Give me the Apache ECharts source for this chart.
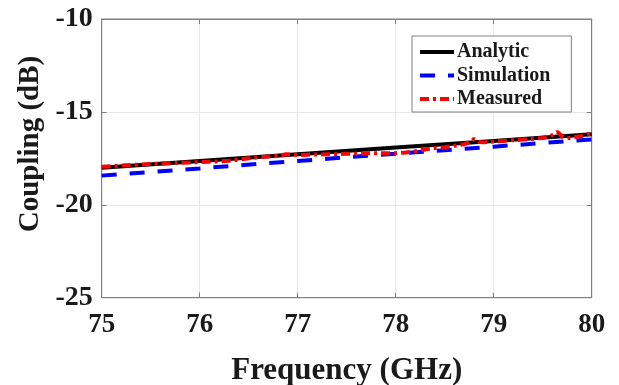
<!DOCTYPE html>
<html>
<head>
<meta charset="utf-8">
<script src="https://cdn.jsdelivr.net/npm/echarts@6/dist/echarts.min.js"></script>
<style>
  html, body { margin: 0; padding: 0; background: #fff; }
  #chart { width: 619px; height: 385px; }
</style>
</head>
<body>
<div id="chart"></div>
<script>
// Coupling versus frequency: analytic model, simulation and measurement
var xTicks = [75, 76, 77, 78, 79, 80];
var yTicks = [-25, -20, -15, -10];

var analyticFreq = [75, 76, 77, 78, 79, 80];
var analyticDb   = [-18.00, -17.64, -17.28, -16.92, -16.56, -16.20];

var simFreq = [75, 76, 77, 78, 79, 80];
var simDb   = [-18.43, -18.04, -17.64, -17.25, -16.87, -16.48];

var measFreq = [75.0, 75.1, 75.2, 75.3, 75.4, 75.5, 75.6, 75.7, 75.8, 75.9,
                76.0, 76.1, 76.2, 76.3, 76.4, 76.5, 76.6, 76.7, 76.8, 76.88, 76.9,
                77.0, 77.1, 77.2, 77.3, 77.4, 77.5, 77.6, 77.7, 77.8, 77.9,
                78.0, 78.1, 78.2, 78.3, 78.4, 78.5, 78.6, 78.7, 78.76, 78.8, 78.85, 78.9,
                79.0, 79.1, 79.2, 79.3, 79.4, 79.5, 79.6, 79.65, 79.7, 79.75, 79.8, 79.9, 80.0];
var measDb   = [-17.95, -17.92, -17.88, -17.86, -17.83, -17.80, -17.78, -17.76, -17.74, -17.72,
                -17.70, -17.68, -17.66, -17.63, -17.57, -17.50, -17.44, -17.40, -17.37, -17.28, -17.35,
                -17.32, -17.30, -17.29, -17.28, -17.27, -17.25, -17.24, -17.23, -17.23, -17.23,
                -17.22, -17.19, -17.12, -17.02, -16.95, -16.90, -16.82, -16.74, -16.62, -16.45, -16.62, -16.64,
                -16.59, -16.56, -16.52, -16.49, -16.45, -16.40, -16.25, -16.08, -16.32, -16.42, -16.38, -16.30, -16.15];

function pairs(xs, ys) {
  return xs.map(function (x, i) { return [x, ys[i]]; });
}

var serif = '"Liberation Serif", "Times New Roman", serif';
var chart = echarts.init(document.getElementById('chart'), null, { renderer: 'canvas' });

var frameColor = '#808080';
var gridColor = '#e8e8e8';
var textColor = '#1a1a1a';

chart.setOption({
  animation: false,
  backgroundColor: '#ffffff',
  grid: {
    left: 101.7, right: 27.3, top: 19, bottom: 87.3,
    containLabel: false, outerBoundsMode: 'none',
    show: true, borderColor: frameColor, borderWidth: 1, backgroundColor: 'transparent'
  },
  legend: {
    orient: 'vertical',
    left: 412, top: 36,
    padding: [6, 21, 3, 6],
    itemGap: 3.5,
    itemWidth: 34, itemHeight: 14,
    backgroundColor: '#ffffff',
    borderColor: frameColor, borderWidth: 1,
    itemStyle: { opacity: 0, borderWidth: 0 },
    lineStyle: { width: 4 },
    textStyle: { fontFamily: serif, fontWeight: 'bold', fontSize: 20, color: textColor, lineHeight: 20, padding: [0, 0, 0, -2] },
    data: ['Analytic', 'Simulation', 'Measured']
  },
  xAxis: [{
    type: 'value', min: 75, max: 80, interval: 1,
    axisLine: { show: true, lineStyle: { color: frameColor, width: 1 } },
    axisTick: { show: true, inside: true, length: 5, lineStyle: { color: frameColor } },
    splitLine: { show: true, lineStyle: { color: gridColor, width: 1 } },
    axisLabel: { fontFamily: serif, fontWeight: 'bold', fontSize: 27, color: textColor, margin: 14 },
    name: 'Frequency (GHz)', nameLocation: 'middle', nameGap: 58,
    nameTextStyle: { fontFamily: serif, fontWeight: 'bold', fontSize: 31, color: textColor }
  }, {
    type: 'value', min: 75, max: 80, interval: 1, position: 'top',
    axisLine: { show: true, lineStyle: { color: frameColor, width: 1 } },
    axisTick: { show: true, inside: true, length: 5, lineStyle: { color: frameColor } },
    splitLine: { show: false }, axisLabel: { show: false }
  }],
  yAxis: [{
    type: 'value', min: -25, max: -10, interval: 5,
    axisLine: { show: true, lineStyle: { color: frameColor, width: 1 } },
    axisTick: { show: true, inside: true, length: 5, lineStyle: { color: frameColor } },
    splitLine: { show: true, lineStyle: { color: gridColor, width: 1 } },
    axisLabel: { fontFamily: serif, fontWeight: 'bold', fontSize: 28, color: textColor, margin: 9 }
  }, {
    type: 'value', min: -25, max: -10, interval: 5, position: 'right',
    axisLine: { show: true, lineStyle: { color: frameColor, width: 1 } },
    axisTick: { show: true, inside: true, length: 5, lineStyle: { color: frameColor } },
    splitLine: { show: false }, axisLabel: { show: false }
  }],
  graphic: [{
    type: 'text',
    x: 31, y: 144,
    rotation: Math.PI / 2,
    style: {
      text: 'Coupling (dB)',
      font: 'bold 29px ' + serif,
      fill: textColor,
      align: 'center', verticalAlign: 'middle',
      textAlign: 'center', textVerticalAlign: 'middle'
    }
  }],
  series: [{
    name: 'Analytic', type: 'line', showSymbol: false, symbol: 'none',
    data: pairs(analyticFreq, analyticDb),
    lineStyle: { color: '#000000', width: 4 }, itemStyle: { color: '#000000' }, z: 3
  }, {
    name: 'Simulation', type: 'line', showSymbol: false, symbol: 'none',
    data: pairs(simFreq, simDb),
    lineStyle: { color: '#0000ff', width: 4, type: [15, 13] }, itemStyle: { color: '#0000ff' }, z: 2
  }, {
    name: 'Measured', type: 'line', showSymbol: false, symbol: 'none',
    data: pairs(measFreq, measDb),
    lineStyle: { color: '#ff0000', width: 4, type: [9, 4, 3, 4] }, itemStyle: { color: '#ff0000' }, z: 4
  }]
});
</script>
</body>
</html>
